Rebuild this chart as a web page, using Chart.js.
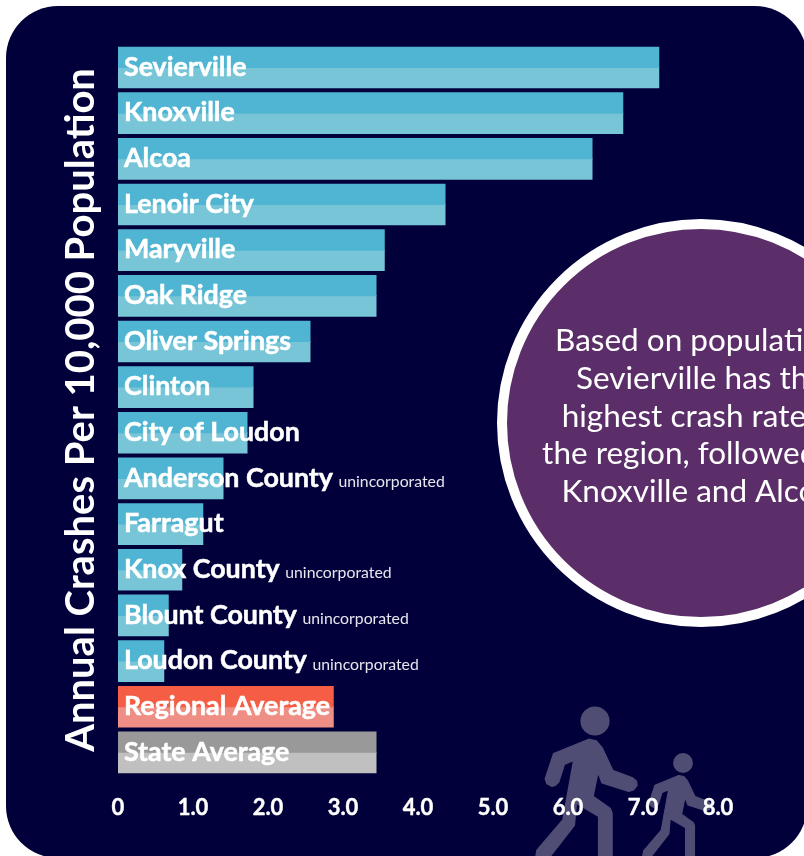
<!DOCTYPE html>
<html>
<head>
<meta charset="utf-8">
<script src="https://cdn.jsdelivr.net/npm/chart.js@4"></script>
<style>
  html, body { margin: 0; padding: 0; background: #fff; overflow: hidden; }
  #wrap { position: relative; width: 804px; height: 856px; }
</style>
</head>
<body>
<div id="wrap"><canvas id="chart" width="804" height="856"></canvas></div>
<script>
const places = ["Sevierville", "Knoxville", "Alcoa", "Lenoir City", "Maryville", "Oak Ridge",
  "Oliver Springs", "Clinton", "City of Loudon", "Anderson County", "Farragut", "Knox County",
  "Blount County", "Loudon County", "Regional Average", "State Average"];
const crashRates = [7.21, 6.73, 6.32, 4.36, 3.55, 3.44, 2.56, 1.8, 1.72, 1.4, 1.13, 0.85, 0.67, 0.61, 2.87, 3.44];
const unincorporated = ["Anderson County", "Knox County", "Blount County", "Loudon County"];
const axisTitle = "Annual Crashes Per 10,000 Population";
const calloutLines = ["Based on population,", "Sevierville has the", "highest crash rate in", "the region, followed by", "Knoxville and Alcoa."];

const NAVY = "#02003A";
const LABEL_FONT_SIZE = 26.8;
const upperShades = places.map(p => p === "Regional Average" ? "#F55E45" : p === "State Average" ? "#999999" : "#50B5D2");
const lowerShades = places.map(p => p === "Regional Average" ? "#EE8E84" : p === "State Average" ? "#C0C0C0" : "#77C5D7");

// Pedestrian pictogram outline, in thirds of a pixel relative to the head centre (224, 92).
const walkerOutline = [[100,190],[205,147],[228,152],[245,172],[277,240],[335,262],[348,272],[350,285],[340,298],[325,303],
  [245,277],[233,245],[218,318],[270,355],[275,368],[275,510],[235,510],[235,378],[168,338],[162,405],[80,510],[45,510],
  [50,480],[128,388],[160,210],[132,222],[115,275],[105,285],[95,288],[80,280],[75,265]];

function drawWalker(ctx, hx, hy, k) {
  ctx.save();
  ctx.fillStyle = ctx.strokeStyle = "#504D75";
  ctx.lineJoin = "round";
  ctx.lineWidth = 1.5 * k;
  ctx.beginPath();
  ctx.arc(hx, hy, 14.6 * k, 0, Math.PI * 2);
  ctx.fill();
  ctx.beginPath();
  walkerOutline.forEach(([x, y], i) => {
    const px = hx + (x - 224) / 3 * k, py = hy + (y - 92) / 3 * k;
    if (i) ctx.lineTo(px, py); else ctx.moveTo(px, py);
  });
  ctx.closePath();
  ctx.fill();
  ctx.stroke();
  ctx.restore();
}

const backdrop = {
  id: "backdrop",
  beforeDraw(chart) {
    const ctx = chart.ctx;
    ctx.save();
    ctx.fillStyle = "#fff";
    ctx.fillRect(0, 0, 804, 856);
    ctx.fillStyle = NAVY;
    ctx.beginPath();
    ctx.roundRect(6, 6, 801, 852, 52);
    ctx.fill();
    ctx.restore();
    drawWalker(ctx, 595, 721, 1);
    drawWalker(ctx, 683, 763, 0.68);
  }
};

const callout = {
  id: "callout",
  afterDraw(chart) {
    const ctx = chart.ctx;
    ctx.save();
    ctx.beginPath();
    ctx.arc(701, 423, 199, 0, Math.PI * 2);
    ctx.fillStyle = "#5B2E69";
    ctx.fill();
    ctx.lineWidth = 10;
    ctx.strokeStyle = "#fff";
    ctx.stroke();
    ctx.fillStyle = "#fff";
    ctx.font = "31.5px Lato";
    ctx.textAlign = "center";
    ctx.textBaseline = "alphabetic";
    calloutLines.forEach((t, i) => ctx.fillText(t, 700.5, 351 + i * 37.8));
    ctx.restore();
  }
};

const placeNotes = {
  id: "placeNotes",
  afterDraw(chart) {
    const ctx = chart.ctx, y = chart.scales.y;
    ctx.save();
    ctx.textBaseline = "alphabetic";
    places.forEach((p, i) => {
      if (!unincorporated.includes(p)) return;
      ctx.font = "bold " + LABEL_FONT_SIZE + "px Lato";
      const w = ctx.measureText(p).width;
      ctx.font = "15.8px Lato";
      ctx.fillStyle = "#E6E6EE";
      ctx.fillText("unincorporated", 124 + w + 5.5, y.getPixelForTick(i) + 8.5);
    });
    ctx.restore();
  }
};

new Chart(document.getElementById("chart"), {
  type: "bar",
  data: {
    labels: places,
    datasets: [
      { data: crashRates, backgroundColor: upperShades, inflateAmount: 0.5 },
      { data: crashRates, backgroundColor: lowerShades, inflateAmount: 0.5 }
    ]
  },
  options: {
    indexAxis: "y",
    responsive: false,
    animation: false,
    events: [],
    categoryPercentage: 0.89,
    barPercentage: 1,
    layout: { padding: { left: 57, right: 86, top: 44.7, bottom: 15 } },
    plugins: { legend: { display: false }, tooltip: { enabled: false }, title: { display: false } },
    scales: {
      x: {
        min: 0,
        max: 8,
        grid: { display: false, drawTicks: false },
        border: { display: false },
        ticks: {
          stepSize: 1,
          padding: 19.7,
          color: "#fff",
          textStrokeColor: "#fff",
          textStrokeWidth: 0.4,
          font: { family: "Lato", weight: "bold", size: 22 },
          maxRotation: 0,
          callback: v => v === 0 ? "0" : v.toFixed(1)
        }
      },
      y: {
        grid: { display: false, drawTicks: false },
        border: { display: false },
        title: {
          display: true,
          text: axisTitle,
          color: "#fff",
          font: { family: "Lato", weight: "bold", size: 40 },
          padding: 0
        },
        ticks: {
          z: 1,
          mirror: true,
          padding: 6,
          labelOffset: -0.5,
          autoSkip: false,
          color: "#fff",
          textStrokeColor: "#fff",
          textStrokeWidth: 0.5,
          font: { family: "Lato", weight: "bold", size: LABEL_FONT_SIZE }
        },
        afterFit(scale) { scale.width = 61; }
      }
    }
  },
  plugins: [backdrop, placeNotes, callout]
});
</script>
</body>
</html>
